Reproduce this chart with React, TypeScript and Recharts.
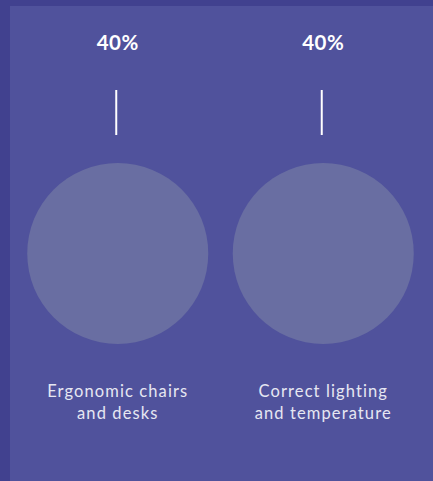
import React from "react"
import { ScatterChart, Scatter, XAxis, YAxis, ZAxis } from "recharts"

const CATEGORIES = ["Ergonomic chairs\nand desks", "Correct lighting\nand temperature"]
const VALUES = [40, 40]
const VALUE_LABELS = ["40%", "40%"]

const data = CATEGORIES.map((name, i) => ({ x: i + 0.5, y: 0.5, z: VALUES[i], name, label: VALUE_LABELS[i] }))

const FONT = "Lato, 'Noto Sans', sans-serif"

// circle + connector line + value on top + category under it
const Bubble = (props: any) => {
  const { cx, cy, payload } = props
  const r = props.size ? Math.sqrt(props.size / Math.PI) : 90.5
  const lines = String(payload.name).split("\n")
  return (
    <g>
      <circle cx={cx} cy={cy} r={r} fill="#696ea2" />
      <line x1={cx - 1.5} x2={cx - 1.5} y1={cy - 163.5} y2={cy - 118.5} stroke="#ffffff" strokeWidth={2} />
      <text x={cx} y={cy - 204} textAnchor="middle" fill="#ffffff" fontSize={20.5} fontWeight={700} fontFamily={FONT} letterSpacing={0.5}>
        {payload.label}
      </text>
      {lines.map((l, i) => (
        <text
          key={i}
          x={cx}
          y={cy + 143 + i * 22}
          textAnchor="middle"
          fill="#e6e7f2"
          fontSize={16.5}
          fontFamily={FONT}
          letterSpacing={1.1}
        >
          {l}
        </text>
      ))}
    </g>
  )
}

export default function App() {
  return (
    <div style={{ position: "absolute", left: 0, top: 0, width: 433, height: 481, background: "#41418f" }}>
      <div style={{ position: "absolute", left: 10, top: 6, width: 423, height: 475, background: "#50529c" }} />
      <div style={{ position: "absolute", left: 0, top: 0 }}>
        <ScatterChart width={433} height={481} margin={{ top: 26, right: 7, bottom: 0, left: 15 }}>
          <XAxis type="number" dataKey="x" domain={[0, 2]} hide />
          <YAxis type="number" dataKey="y" domain={[0, 1]} hide />
          <ZAxis type="number" dataKey="z" domain={[0, 40]} range={[0, 25730]} />
          <Scatter data={data} shape={Bubble} isAnimationActive={false} />
        </ScatterChart>
      </div>
    </div>
  )
}
